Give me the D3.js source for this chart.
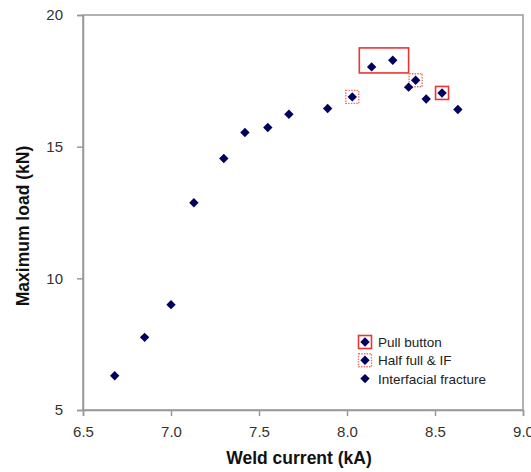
<!DOCTYPE html>
<html>
<head>
<meta charset="utf-8">
<script src="https://cdn.jsdelivr.net/npm/d3@7"></script>
<style>
  body { margin: 0; background: #fff; }
  text { font-family: "Liberation Sans", Arial, sans-serif; }
</style>
</head>
<body>
<div id="chart"></div>
<script>
// Weld current (kA) vs maximum load (kN)
const current = [6.68, 6.85, 7.00, 7.13, 7.30, 7.42, 7.55, 7.67, 7.89, 8.03, 8.14, 8.26, 8.39, 8.35, 8.45, 8.54, 8.63];
const load = [6.30, 7.76, 9.00, 12.87, 14.55, 15.54, 15.73, 16.23, 16.45, 16.89, 18.03, 18.28, 17.52, 17.26, 16.81, 17.04, 16.41];
// failure mode per point: "pull", "half" or "if"
const mode = ["if", "if", "if", "if", "if", "if", "if", "if", "if", "half", "pullGroup", "pullGroup", "half", "if", "if", "pull", "if"];

const xTicks = [6.5, 7.0, 7.5, 8.0, 8.5, 9.0];
const yTicks = [5, 10, 15, 20];

// box drawn around the two grouped pull button points (data units)
const groupBoxX = [8.07, 8.35];
const groupBoxY = [17.8, 18.75];

const legendLabels = ["Pull button", "Half full & IF", "Interfacial fracture"];
const legendModes = ["pull", "half", "if"];

const margin = { top: 15, right: 8, bottom: 62, left: 83 };
const width = 531 - margin.left - margin.right;
const height = 472 - margin.top - margin.bottom;

const svg = d3
  .select("#chart")
  .append("svg")
  .attr("width", 531)
  .attr("height", 472)
  .append("g")
  .attr("transform", `translate(${margin.left},${margin.top})`);

const x = d3.scaleLinear().domain([6.5, 9.0]).range([0, width]);
const y = d3.scaleLinear().domain([5, 20]).range([height, 0]);

const axisColor = "#999";

// plot frame
svg
  .append("rect")
  .attr("width", width)
  .attr("height", height)
  .attr("fill", "none")
  .attr("stroke", axisColor)
  .attr("stroke-width", 1.5);

// X axis
const xAxis = svg
  .append("g")
  .attr("transform", `translate(0,${height})`)
  .call(d3.axisBottom(x).tickValues(xTicks).tickFormat(d3.format(".1f")).tickSize(6).tickPadding(10));

// Y axis
const yAxis = svg
  .append("g")
  .call(d3.axisLeft(y).tickValues(yTicks).tickSize(6).tickPadding(14));

[xAxis, yAxis].forEach((g) => {
  g.select(".domain").attr("stroke", axisColor).attr("stroke-width", 1.5);
  g.selectAll(".tick line").attr("stroke", axisColor).attr("stroke-width", 1.5);
  g.selectAll(".tick text")
    .attr("fill", "#333")
    .style("font-size", "15px")
    .style("font-family", "'Liberation Sans', Arial, sans-serif");
});

const diamond = d3.symbol().type(d3.symbolSquare).size(44);
const navy = "#00005e";

function drawMarker(g, cx, cy, m) {
  if (m === "pull") {
    g.append("rect")
      .attr("x", cx - 6.5).attr("y", cy - 6.5)
      .attr("width", 13).attr("height", 13)
      .attr("fill", "none")
      .attr("stroke", "#e33")
      .attr("stroke-width", 1.6);
  } else if (m === "half") {
    g.append("rect")
      .attr("x", cx - 6.5).attr("y", cy - 6.5)
      .attr("width", 13).attr("height", 13)
      .attr("fill", "none")
      .attr("stroke", "#f07070")
      .attr("stroke-width", 1.4)
      .attr("stroke-dasharray", "1.5,1.2");
  }
  g.append("path")
    .attr("d", diamond)
    .attr("transform", `translate(${cx},${cy}) rotate(45)`)
    .attr("fill", navy);
}

// group box
svg
  .append("rect")
  .attr("x", x(groupBoxX[0]))
  .attr("y", y(groupBoxY[1]))
  .attr("width", x(groupBoxX[1]) - x(groupBoxX[0]))
  .attr("height", y(groupBoxY[0]) - y(groupBoxY[1]))
  .attr("fill", "none")
  .attr("stroke", "#e33")
  .attr("stroke-width", 1.6);

// points
const pts = svg.append("g");
current.forEach((c, i) => {
  const m = mode[i] === "pullGroup" ? "if" : mode[i];
  drawMarker(pts, x(c), y(load[i]), m);
});

// legend
const legend = svg.append("g").attr("transform", `translate(${365 - margin.left},${342 - margin.top})`);
legendLabels.forEach((label, i) => {
  const row = legend.append("g").attr("transform", `translate(0,${i * 18.3})`);
  drawMarker(row, 0, 0, legendModes[i]);
  row.append("text")
    .attr("x", 13)
    .attr("y", 5)
    .attr("fill", "#222")
    .style("font-size", "13.5px")
    .text(label);
});

// axis titles
svg
  .append("text")
  .attr("x", 216)
  .attr("y", height + 54)
  .attr("text-anchor", "middle")
  .attr("fill", "#111")
  .style("font-size", "17.5px")
  .style("font-weight", "bold")
  .text("Weld current (kA)");

svg
  .append("text")
  .attr("transform", `translate(${-54},211) rotate(-90)`)
  .attr("text-anchor", "middle")
  .attr("fill", "#111")
  .style("font-size", "17.5px")
  .style("font-weight", "bold")
  .text("Maximum load (kN)");
</script>
</body>
</html>
